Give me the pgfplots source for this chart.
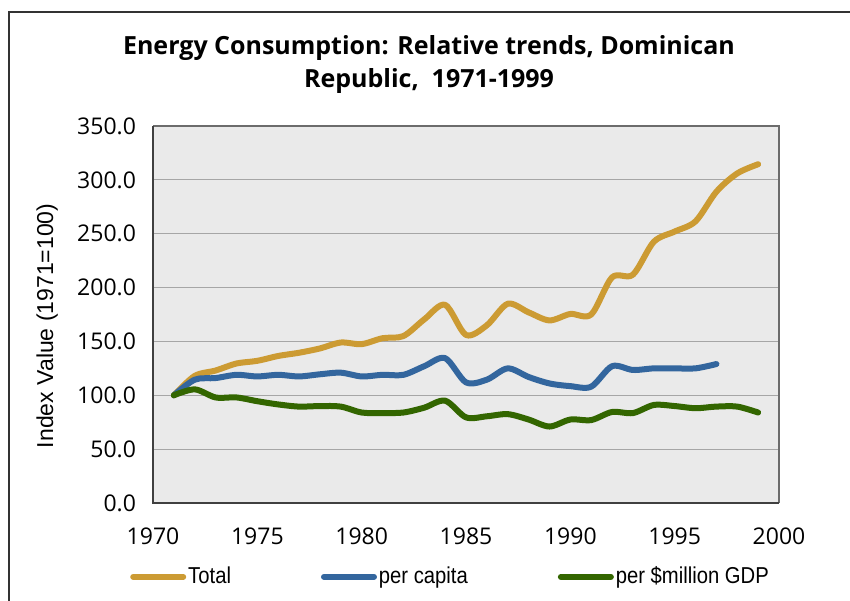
\documentclass[border=0pt]{standalone}
\usepackage{fontspec}
\setmainfont{Open Sans}
\newfontfamily\titlefont{Open Sans}
\newfontfamily\arialfont{Liberation Sans}
\newfontfamily\narrowfont{Liberation Sans}[FakeStretch=0.88]
\usepackage{pgfplots}
\pgfplotsset{compat=1.18}
\definecolor{cTotal}{RGB}{204,155,51}
\definecolor{cCap}{RGB}{51,102,158}
\definecolor{cGdp}{RGB}{51,102,0}
\definecolor{bgGray}{RGB}{234,234,234}
\definecolor{gridGray}{RGB}{166,166,166}
\begin{document}
\begin{tikzpicture}
\useasboundingbox (0,0) rectangle (425pt,300pt);
\draw[black!80, line width=0.6pt] (4.5pt,-1pt) -- (4.5pt,294pt) -- (426pt,294pt);
\node[font=\titlefont\bfseries\fontsize{12.5}{14}\selectfont] at (214.5pt,276pt) {Energy Consumption: Relative trends, Dominican};
\node[font=\titlefont\bfseries\fontsize{12.5}{14}\selectfont] at (214.5pt,259.5pt) {Republic,\ \ 1971-1999};
\begin{axis}[
  scale only axis,
  width=313pt, height=188.5pt,
  at={(76.5pt,48.5pt)}, anchor=south west,
  xmin=1970, xmax=2000, ymin=0, ymax=350,
  xtick={1970,1975,...,2000},
  ytick={0,50,...,350},
  /pgf/number format/assume math mode=true,
  xticklabel style={/pgf/number format/1000 sep={}, font=\fontsize{11.5}{13}\selectfont, yshift=-9pt},
  yticklabel style={/pgf/number format/fixed, /pgf/number format/fixed zerofill, /pgf/number format/precision=1, font=\fontsize{11.5}{13}\selectfont, xshift=-5pt},
  major tick length=0pt,
  axis line style={draw=none},
  axis background/.style={fill=bgGray},
  ymajorgrids, grid style={gridGray, line width=0.6pt},
  ylabel={\arialfont\fontsize{11.5}{13}\selectfont Index Value (1971=100)},
  ylabel style={at={(axis description cs:-0.169,0.47)}, anchor=center},
  legend columns=3,
  legend style={draw=none, fill=none, at={(axis description cs:-0.037,-0.196)}, anchor=west,
    font=\narrowfont\fontsize{11.5}{13}\selectfont, inner sep=0pt,
    /tikz/every even column/.append style={column sep=44pt},
    nodes={inner xsep=1pt}},
  legend image code/.code={\draw[#1, line cap=round] (0pt,0pt) -- (25pt,0pt);},
  every axis plot/.append style={line width=3pt, smooth, line cap=round, line join=round},
]
\addplot[cTotal] coordinates {
(1971,100) (1972,118) (1973,123) (1974,129.5) (1975,132) (1976,136.5) (1977,139.5) (1978,143.5) (1979,149) (1980,147.5)
(1981,153) (1982,155) (1983,170.5) (1984,184) (1985,156) (1986,165) (1987,185) (1988,177) (1989,169.5) (1990,175.5)
(1991,175) (1992,209.5) (1993,212) (1994,242.5) (1995,252) (1996,261.5) (1997,289) (1998,306) (1999,314.5)};
\addlegendentry{Total}
\addplot[cCap] coordinates {
(1971,100) (1972,114.5) (1973,116) (1974,119) (1975,117.5) (1976,119) (1977,117.5) (1978,119.5) (1979,121) (1980,117.5)
(1981,119) (1982,119) (1983,127) (1984,134.5) (1985,112) (1986,114.5) (1987,125) (1988,117) (1989,111) (1990,108.5)
(1991,108) (1992,127) (1993,123.5) (1994,125) (1995,125) (1996,125) (1997,129)};
\addlegendentry{per capita}
\addplot[cGdp] coordinates {
(1971,100) (1972,105.5) (1973,98) (1974,98) (1975,94.5) (1976,91.5) (1977,89.5) (1978,90) (1979,89.5) (1980,84)
(1981,83.5) (1982,84) (1983,88.5) (1984,95) (1985,79.5) (1986,80.5) (1987,82.5) (1988,77.5) (1989,71) (1990,77.5)
(1991,77) (1992,84.5) (1993,83.5) (1994,91) (1995,90) (1996,88) (1997,89.5) (1998,89.5) (1999,84)};
\addlegendentry{per \$million GDP}
\end{axis}
\draw[gray!85!black, line width=0.9pt] (76.5pt,237pt) -- (389.5pt,237pt) -- (389.5pt,48.5pt);
\draw[black!75, line width=0.9pt] (76.5pt,237pt) -- (76.5pt,48.5pt) -- (389.5pt,48.5pt);
\end{tikzpicture}
\end{document}
